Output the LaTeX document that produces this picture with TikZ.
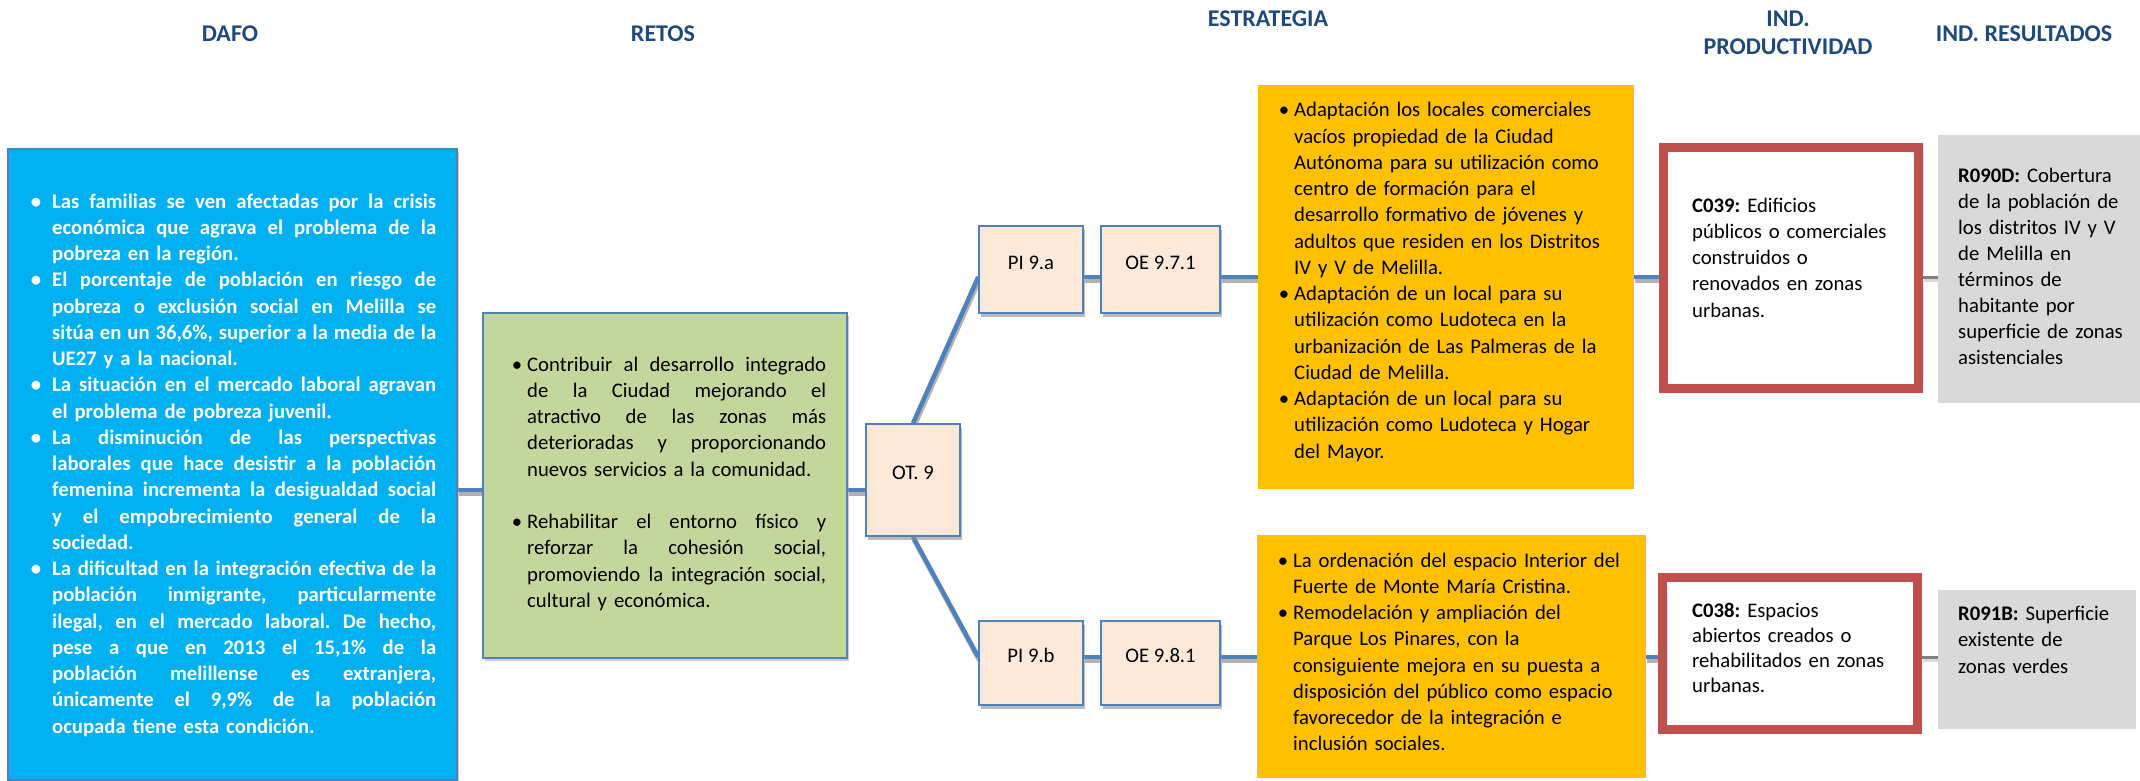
\documentclass[tikz,border=0pt]{standalone}
\usepackage{fontspec}
\setmainfont{Carlito}
\usetikzlibrary{fit,shadows,calc}
\definecolor{dafoblue}{HTML}{00B0F0}
\definecolor{edgeblue}{HTML}{4F81BD}
\definecolor{retogreen}{HTML}{C3D69B}
\definecolor{peach}{HTML}{FDE9D9}
\definecolor{gold}{HTML}{FFC000}
\definecolor{redbox}{HTML}{C0504D}
\definecolor{greybox}{HTML}{D9D9D9}
\definecolor{headblue}{HTML}{1F497D}
\setlength\parindent{0pt}
\frenchspacing
\pgfdeclarelayer{bg}
\pgfsetlayers{bg,main}
\newlength\jw
\newcommand\jl[1]{\leavevmode\hbox to\jw{\spaceskip=\fontdimen2\font plus 1fil minus \fontdimen4\font\relax #1}\\}
\newcommand\bul[1]{\leavevmode\llap{\textbullet\hspace{#1}}}
\newcommand\bodyfont{\fontsize{20.7}{26.25}\selectfont\frenchspacing}
\newcommand\link[4]{%
  \begin{scope}[transform canvas={xshift=1pt,yshift=-3.5pt}]\draw[#1,draw=#2] #3 -- #4;\end{scope}
  \draw[#1] #3 -- #4;}
\begin{document}
\begin{tikzpicture}[x=1pt,y=-1pt,
  box/.style={draw=edgeblue, line width=1.5pt, inner sep=0pt, font=\bodyfont},
  shadowed/.style={drop shadow={shadow xshift=2pt, shadow yshift=-4pt, fill=black!45, opacity=0.6}},
  lightshadow/.style={drop shadow={shadow xshift=1.5pt, shadow yshift=-2.5pt, fill=black!40, opacity=0.5}},
  conn/.style={draw=edgeblue, line width=4.5pt},
  greyconn/.style={draw=black!50, line width=3pt},
  body/.style={inner sep=0pt, font=\bodyfont, anchor=base west},
  head/.style={inner sep=0pt, font=\fontsize{24}{28}\selectfont\bfseries, text=headblue, anchor=base},
  plain/.style={draw=none, inner sep=0pt}]
\useasboundingbox (0,0) rectangle (2140,781);

% headers
\node[head] (hdafo) at (230,42) {DAFO};
\node[head] (hretos) at (663,42) {RETOS};
\node[head] (hestr) at (1268,27) {ESTRATEGIA};
\node[head, text width=220pt, align=center] (hprod) at (1788,27) {IND.\\PRODUCTIVIDAD};
\node[head] (hres) at (2024,42) {IND. RESULTADOS};

% boxes
\node[box, fill=dafoblue, lightshadow, fit={(8,149) (457,780)}] (dafo) {};
\node[box, fill=retogreen, lightshadow, fit={(483,313) (847,658)}] (green) {};
\node[box, fill=peach, shadowed, fit={(866,424) (960,536)}] (ot) {OT. 9};
\node[box, fill=peach, shadowed, fit={(979,226) (1083,313)}] (pia) {PI 9.a};
\node[box, fill=peach, shadowed, fit={(1101,226) (1220,313)}] (oea) {OE 9.7.1};
\node[box, fill=peach, shadowed, fit={(979,621) (1083,705)}] (pib) {PI 9.b};
\node[box, fill=peach, shadowed, fit={(1101,621) (1220,705)}] (oeb) {OE 9.8.1};
\node[plain, fill=gold, fit={(1258,85) (1634,489)}] (ya) {};
\node[plain, fill=gold, fit={(1257,535) (1646,778)}] (yb) {};
\node[draw=redbox, line width=8pt, fill=white, inner sep=0pt, fit={(1663,147) (1919,389)}] (ra) {};
\node[draw=redbox, line width=8pt, fill=white, inner sep=0pt, fit={(1662,577) (1918,730)}] (rb) {};
\draw[redbox, line width=1.5pt] ($(ra.north west)+(8,8)$) rectangle ($(ra.south east)+(-8,-8)$);
\draw[redbox, line width=1.5pt] ($(rb.north west)+(8,8)$) rectangle ($(rb.south east)+(-8,-8)$);
\node[plain, fill=greybox, fit={(1938,135) (2140,403)}] (ga) {};
\node[plain, fill=greybox, fit={(1938,590) (2136,729)}] (gb) {};

% connectors
\coordinate (hA) at (0,490);
\coordinate (hT) at (0,277);
\coordinate (hB) at (0,657);
\begin{pgfonlayer}{bg}
\link{conn}{black!30}{(dafo.east |- hA)}{(green.west |- hA)}
\link{conn}{black!30}{(green.east |- hA)}{(ot.west |- hA)}
\link{conn}{black!30}{(ot.north)}{(pia.west |- hT)}
\link{conn}{black!30}{(ot.south)}{(pib.west |- hB)}
\link{conn}{black!30}{(pia.east |- hT)}{(oea.west |- hT)}
\link{conn}{black!30}{(oea.east |- hT)}{(ya.west |- hT)}
\link{conn}{black!30}{(ya.east |- hT)}{(ra.west |- hT)}
\link{greyconn}{black!15}{(ra.east |- hT)}{(ga.west |- hT)}
\link{conn}{black!30}{(pib.east |- hB)}{(oeb.west |- hB)}
\link{conn}{black!30}{(oeb.east |- hB)}{(yb.west |- hB)}
\link{conn}{black!30}{(yb.east |- hB)}{(rb.west |- hB)}
\link{greyconn}{black!15}{(rb.east |- hB)}{(gb.west |- hB)}
\end{pgfonlayer}

% texts
\node[body, text width=384pt, text=white, font=\bodyfont\bfseries] (tdafo) at (52,208) {%
\setlength\jw{384pt}%
\bul{11pt}\jl{Las familias se ven afectadas por la crisis}
\jl{económica que agrava el problema de la}
pobreza en la región.\par
\bul{11pt}\jl{El porcentaje de población en riesgo de}
\jl{pobreza o exclusión social en Melilla se}
\jl{sitúa en un 36,6\%, superior a la media de la}
UE27 y a la nacional.\par
\bul{11pt}\jl{La situación en el mercado laboral agravan}
el problema de pobreza juvenil.\par
\bul{11pt}\jl{La disminución de las perspectivas}
\jl{laborales que hace desistir a la población}
\jl{femenina incrementa la desigualdad social}
\jl{y el empobrecimiento general de la}
sociedad.\par
\bul{11pt}\jl{La dificultad en la integración efectiva de la}
\jl{población inmigrante, particularmente}
\jl{ilegal, en el mercado laboral. De hecho,}
\jl{pese a que en 2013 el 15,1\% de la}
\jl{población melillense es extranjera,}
\jl{únicamente el 9,9\% de la población}
ocupada tiene esta condición.};

\node[body, text width=299pt] (tgreen) at (527,371) {%
\setlength\jw{299pt}%
\bul{5pt}\jl{Contribuir al desarrollo integrado}
\jl{de la Ciudad mejorando el}
\jl{atractivo de las zonas más}
\jl{deterioradas y proporcionando}
nuevos servicios a la comunidad.\par\vskip26.25pt
\bul{5pt}\jl{Rehabilitar el entorno físico y}
\jl{reforzar la cohesión social,}
\jl{promoviendo la integración social,}
cultural y económica.};

\node[body, text width=340pt, align=left] (tya) at (1294,117) {%
\bul{5pt}Adaptación los locales comerciales\\
vacíos propiedad de la Ciudad\\
Autónoma para su utilización como\\
centro de formación para el\\
desarrollo formativo de jóvenes y\\
adultos que residen en los Distritos\\
IV y V de Melilla.\\
\bul{5pt}Adaptación de un local para su\\
utilización como Ludoteca en la\\
urbanización de Las Palmeras de la\\
Ciudad de Melilla.\\
\bul{5pt}Adaptación de un local para su\\
utilización como Ludoteca y Hogar\\
del Mayor.};

\node[body, text width=350pt, align=left] (tyb) at (1293,567) {%
\bul{5pt}La ordenación del espacio Interior del\\
Fuerte de Monte María Cristina.\\
\bul{5pt}Remodelación y ampliación del\\
Parque Los Pinares, con la\\
consiguiente mejora en su puesta a\\
disposición del público como espacio\\
favorecedor de la integración e\\
inclusión sociales.};

\node[body, text width=220pt, align=left] (tra) at (1692,212) {%
\textbf{C039:} Edificios\\
públicos o comerciales\\
construidos o\\
renovados en zonas\\
urbanas.};

\node[body, text width=220pt, align=left, font=\fontsize{20.7}{25.3}\selectfont] (trb) at (1692,617) {%
\textbf{C038:} Espacios\\
abiertos creados o\\
rehabilitados en zonas\\
urbanas.};

\node[body, text width=180pt, align=left, font=\fontsize{20.7}{26}\selectfont] (tga) at (1958,182) {%
\textbf{R090D:} Cobertura\\
de la población de\\
los distritos IV y V\\
de Melilla en\\
términos de\\
habitante por\\
superficie de zonas\\
asistenciales};

\node[body, text width=180pt, align=left, font=\fontsize{20.7}{26.5}\selectfont] (tgb) at (1958,620) {%
\textbf{R091B:} Superficie\\
existente de\\
zonas verdes};
\end{tikzpicture}
\end{document}
